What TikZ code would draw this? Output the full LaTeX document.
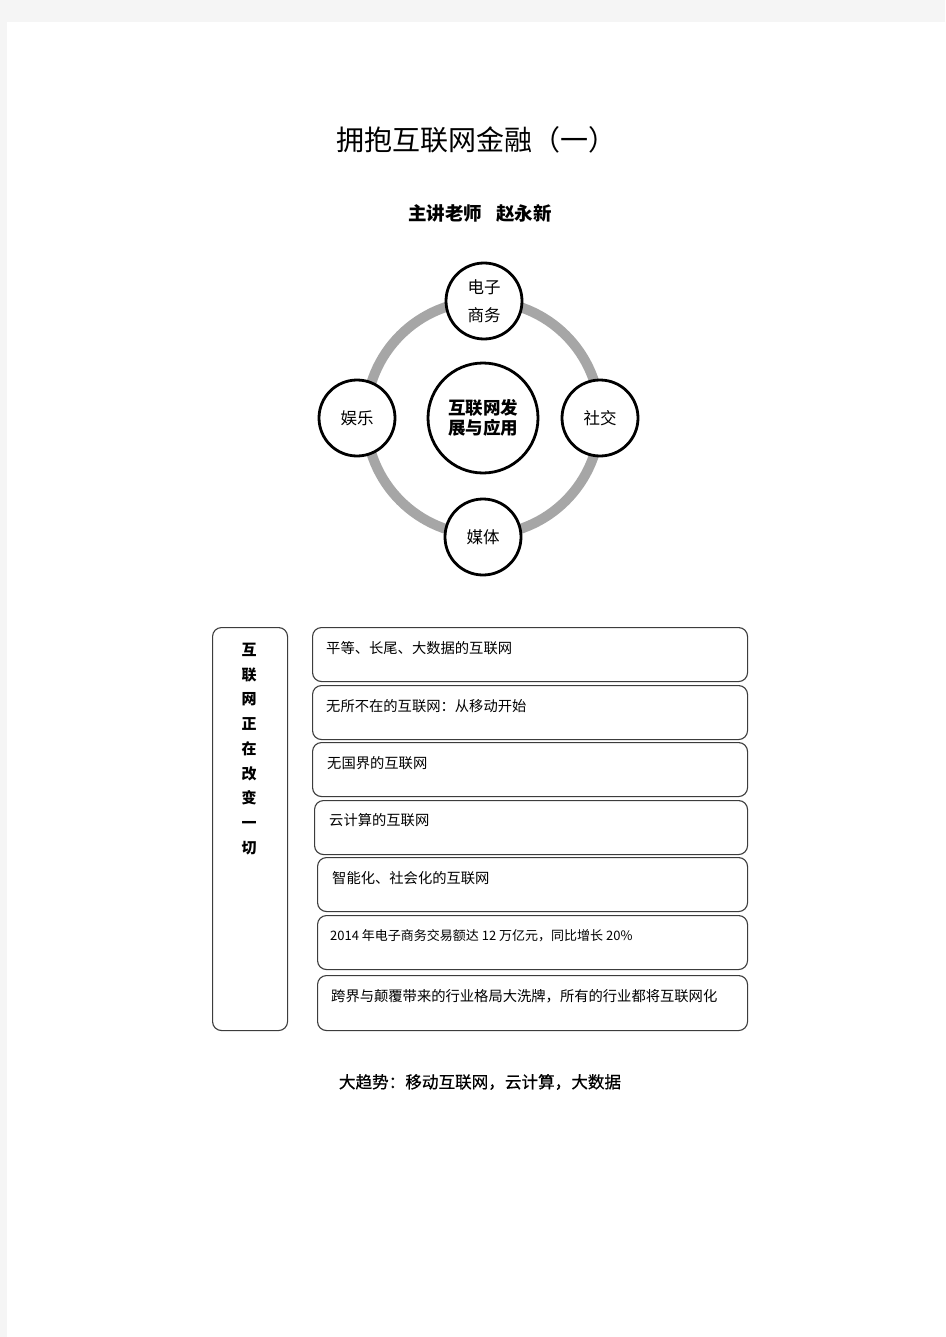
\documentclass[tikz,border=0pt]{standalone}
\usepackage{fontspec}
\newfontfamily\cjk{Noto Sans CJK SC}
\newfontfamily\cjkmed[FakeBold=0.6]{Noto Sans CJK SC}
\definecolor{pagegrey}{RGB}{245,245,245}
\definecolor{ringgrey}{RGB}{166,166,166}
\definecolor{boxline}{RGB}{60,60,60}
\begin{document}
\begin{tikzpicture}[x=1pt,y=-1pt,
  bubble/.style={circle,draw=black,line width=2.8pt,fill=white,inner sep=0pt,minimum size=76pt,font=\cjk\fontsize{16.5}{28}\selectfont,align=center},
  hub/.style={circle,draw=black,line width=2.8pt,fill=white,inner sep=0pt,minimum size=110pt,font=\cjk\bfseries\fontsize{17.5}{19.5}\selectfont,align=center},
  itembox/.style={draw=boxline,line width=1.1pt,rounded corners=9pt,anchor=north west,inner sep=0pt},
  itemtext/.style={anchor=west,inner sep=0pt,font=\cjk\fontsize{14.3}{16}\selectfont},
  ring/.style={draw=ringgrey,line width=10pt}]
\useasboundingbox (0,0) rectangle (945,1337);
\fill[pagegrey] (0,0) rectangle (945,1337);
\fill[white] (7,22) rectangle (945,1337);

% titles
\node (title) [inner sep=0pt,font=\cjk\fontsize{28}{30}\selectfont] at (476,140) {拥抱互联网金融（一）};
\node (subtitle) [inner sep=0pt,font=\cjk\bfseries\fontsize{18.5}{20}\selectfont] at (480,213) {主讲老师\hspace{14pt}赵永新};

% circle diagram
\coordinate (c) at (483,418);
\draw[ring] (c) circle (117pt);
\node (hub) [hub] at (c) {互联网发\\展与应用};
\node (top) [bubble] at (484,301) {电子\\商务};
\node (right) [bubble] at (600,418) {社交};
\node (bottom) [bubble] at (483,537) {媒体};
\node (left) [bubble] at (357,418) {娱乐};

% left tall box
\node (side) [itembox,minimum width=75pt,minimum height=403pt] at (212,627) {};
\node (sidetext) [anchor=north,inner sep=0pt,align=center,font=\cjk\bfseries\fontsize{15}{24.7}\selectfont] at (249,643) {互\\联\\网\\正\\在\\改\\变\\一\\切};

% item boxes
\node (b1) [itembox,minimum width=435pt,minimum height=54pt] at (312,627) {};
\node (t1) [itemtext] at (326,648) {平等、长尾、大数据的互联网};
\node (b2) [itembox,minimum width=435pt,minimum height=54pt] at (312,685) {};
\node (t2) [itemtext] at (326,706) {无所不在的互联网：从移动开始};
\node (b3) [itembox,minimum width=435pt,minimum height=54pt] at (312,742) {};
\node (t3) [itemtext] at (327,763) {无国界的互联网};
\node (b4) [itembox,minimum width=433pt,minimum height=54pt] at (314,800) {};
\node (t4) [itemtext] at (329,820) {云计算的互联网};
\node (b5) [itembox,minimum width=430pt,minimum height=54pt] at (317,857) {};
\node (t5) [itemtext] at (332,878) {智能化、社会化的互联网};
\node (b6) [itembox,minimum width=430pt,minimum height=54pt] at (317,915) {};
\node (t6) [itemtext,font=\cjk\fontsize{13}{15}\selectfont] at (330,936) {2014 年电子商务交易额达 12 万亿元，同比增长 20\%};
\node (b7) [itembox,minimum width=430pt,minimum height=55pt] at (317,975) {};
\node (t7) [itemtext] at (331,996) {跨界与颠覆带来的行业格局大洗牌，所有的行业都将互联网化};

% bottom line
\node (trend) [inner sep=0pt,font=\cjkmed\fontsize{16.6}{18}\selectfont] at (480,1082) {大趋势：移动互联网，云计算，大数据};
\end{tikzpicture}
\end{document}
